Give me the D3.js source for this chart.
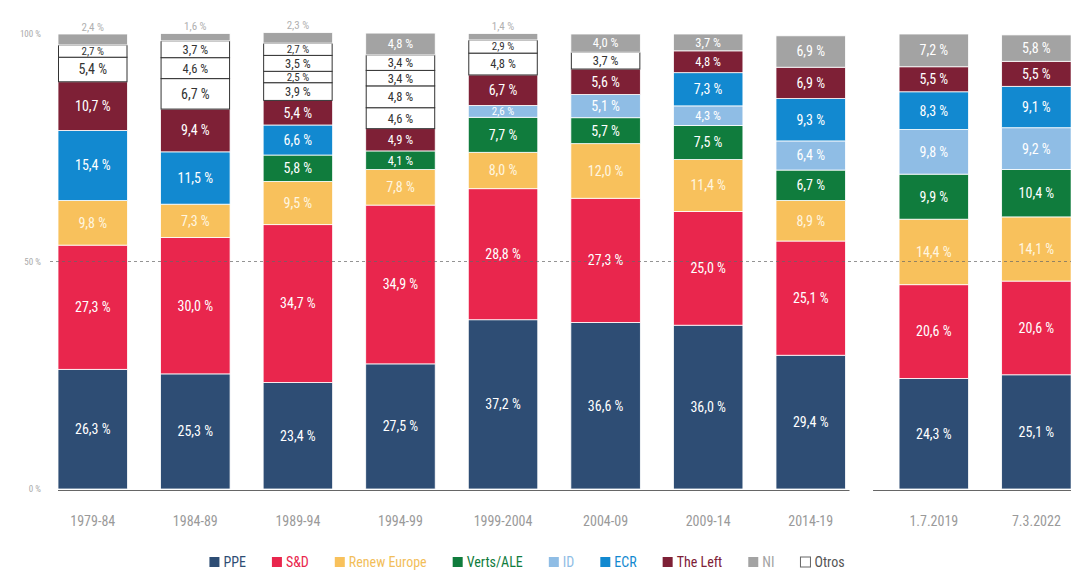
<!DOCTYPE html>
<html><head><meta charset="utf-8">
<script src="https://cdn.jsdelivr.net/npm/d3@7"></script>
<style>
html,body{margin:0;padding:0;background:#fff;}
svg{display:block;}
text{font-family:"Liberation Sans Narrow","Roboto Condensed","DejaVu Sans Condensed",sans-serif;}
</style></head>
<body>
<svg id="chart" width="1071" height="570"></svg>
<script>
// ---- data ----
const categories = ["1979-84","1984-89","1989-94","1994-99","1999-2004","2004-09","2009-14","2014-19","1.7.2019","7.3.2022"];
const ppe   = [26.3, 25.3, 23.4, 27.5, 37.2, 36.6, 36.0, 29.4, 24.3, 25.1];
const sd    = [27.3, 30.0, 34.7, 34.9, 28.8, 27.3, 25.0, 25.1, 20.6, 20.6];
const renew = [ 9.8,  7.3,  9.5,  7.8,  8.0, 12.0, 11.4,  8.9, 14.4, 14.1];
const verts = [ 0,    0,    5.8,  4.1,  7.7,  5.7,  7.5,  6.7,  9.9, 10.4];
const idg   = [ 0,    0,    0,    0,    2.6,  5.1,  4.3,  6.4,  9.8,  9.2];
const ecr   = [15.4, 11.5,  6.6,  0,    0,    0,    7.3,  9.3,  8.3,  9.1];
const left  = [10.7,  9.4,  5.4,  4.9,  6.7,  5.6,  4.8,  6.9,  5.5,  5.5];
const otros = [[5.4, 2.7], [6.7, 4.6, 3.7], [3.9, 2.5, 3.5, 2.7], [4.6, 4.8, 3.4, 3.4], [4.8, 2.9], [3.7], [], [], [], []];
const ni    = [ 2.4,  1.6,  2.3,  4.8,  1.4,  4.0,  3.7,  6.9,  7.2,  5.8];
const legendLabels = ["PPE","S&D","Renew Europe","Verts/ALE","ID","ECR","The Left","NI","Otros"];
const yTicks = [0, 50, 100];
const secondGroup = ["1.7.2019","7.3.2022"];

const colors = {
  "PPE":"#2e4d74","S&D":"#e9264d","Renew Europe":"#f8c15c","Verts/ALE":"#107c3d",
  "ID":"#8fbde5","ECR":"#1289d0","The Left":"#7e2036","NI":"#a3a3a3","Otros":"#ffffff"
};
const legendText = {
  "PPE":"#2e4d74","S&D":"#e9264d","Renew Europe":"#f2be5a","Verts/ALE":"#107c3d",
  "ID":"#8fbde5","ECR":"#1289d0","The Left":"#7e2036","NI":"#a3a3a3","Otros":"#555"
};

const svg = d3.select("#chart");
const fmt = v => d3.format(".1f")(v).replace(".", ",") + " %";

// scales
const gap = 20.5;
const x = d3.scaleBand().domain(categories).range([58, 58 + 9*102.57 + 69.5]).paddingInner(0.3224).paddingOuter(0);
const xPos = c => x(c) + (secondGroup.includes(c) ? gap : 0);
const bw = x.bandwidth();
const y = d3.scaleLinear().domain([0, 100]).range([489, 34]);

// build segments
const segs = [];
categories.forEach((c, i) => {
  let base = 0;
  const push = (party, v) => {
    if (!v) return;
    segs.push({cat: c, party, v, y0: base, y1: base + v});
    base += v;
  };
  push("PPE", ppe[i]); push("S&D", sd[i]); push("Renew Europe", renew[i]);
  push("Verts/ALE", verts[i]); push("ID", idg[i]); push("ECR", ecr[i]);
  push("The Left", left[i]);
  otros[i].forEach(v => push("Otros", v));
  push("NI", ni[i]);
});

// baseline
const base = svg.append("g");
const lastMain = categories[7];
base.append("line").attr("x1", xPos(categories[0])).attr("x2", xPos(lastMain) + bw + 4)
  .attr("y1", y(0) + 1.5).attr("y2", y(0) + 1.5).attr("stroke", "#666").attr("stroke-width", 1);
base.append("line").attr("x1", xPos(secondGroup[0]) - 26).attr("x2", 1071)
  .attr("y1", y(0) + 1.5).attr("y2", y(0) + 1.5).attr("stroke", "#666").attr("stroke-width", 1);

// bars
const g = svg.append("g");
g.selectAll("rect.seg").data(segs).join("rect")
  .attr("class", "seg")
  .attr("x", d => xPos(d.cat) + (d.party === "Otros" ? 0.5 : 0))
  .attr("width", d => bw - (d.party === "Otros" ? 1 : 0))
  .attr("y", d => y(d.y1))
  .attr("height", d => y(d.y0) - y(d.y1))
  .attr("fill", d => colors[d.party])
  .attr("stroke", d => d.party === "Otros" ? "#333" : "#fff")
  .attr("stroke-width", d => d.party === "Otros" ? 1 : 0.8);

// labels
g.selectAll("text.lbl").data(segs).join("text")
  .attr("class", "lbl")
  .attr("x", d => xPos(d.cat) + bw/2)
  .attr("y", d => {
    if (d.party === "NI" && d.v < 2.5) return y(d.y1) - 7;
    return (y(d.y0) + y(d.y1))/2;
  })
  .attr("dy", "0.35em")
  .attr("text-anchor", "middle")
  .attr("font-size", d => (d.v < 3 ? 11 : (d.v < 5 ? 12.5 : 14)))
  .attr("fill", d => {
    if (d.party === "NI" && d.v < 2.5) return "#b0b0b0";
    if (d.party === "Otros") return "#333";
    if (d.party === "Renew Europe") return "#fff6e0";
    return "#fff";
  })
  .text(d => fmt(d.v));

// 50% dashed line
svg.append("line").attr("x1", 50).attr("x2", 1071).attr("y1", y(50)).attr("y2", y(50))
  .attr("stroke", "#666").attr("stroke-opacity", 0.7).attr("stroke-dasharray", "3,3").attr("stroke-width", 1);

// y tick labels
svg.append("g").selectAll("text").data(yTicks).join("text")
  .attr("x", 41).attr("y", d => y(d)).attr("dy", "0.35em")
  .attr("text-anchor", "end").attr("font-size", 9).attr("fill", "#aaa")
  .text(d => d + " %");

// x labels
svg.append("g").selectAll("text").data(categories).join("text")
  .attr("x", c => xPos(c) + bw/2).attr("y", 521).attr("dy", "0.35em")
  .attr("text-anchor", "middle").attr("font-size", 14).attr("fill", "#9a9a9a")
  .text(c => c);

// legend
const lg = svg.append("g");
const items = lg.selectAll("g").data(legendLabels).join("g");
items.append("rect").attr("width", 10).attr("height", 10).attr("y", -5)
  .attr("fill", d => d === "Otros" ? "#fff" : colors[d])
  .attr("stroke", d => d === "Otros" ? "#666" : "none").attr("stroke-width", 1);
items.append("text").attr("x", 14).attr("dy", "0.35em").attr("font-size", 14)
  .attr("fill", d => legendText[d]).text(d => d);
const widths = [];
items.each(function(d){ const w = 14 + this.querySelector("text").getComputedTextLength(); widths.push(w); });
const spacing = 26;
const total = d3.sum(widths) + spacing*(widths.length-1);
let start = 527 - total/2;
items.attr("transform", (d,i) => { const t = `translate(${start},562)`; start += widths[i] + spacing; return t; });
</script>
</body></html>
